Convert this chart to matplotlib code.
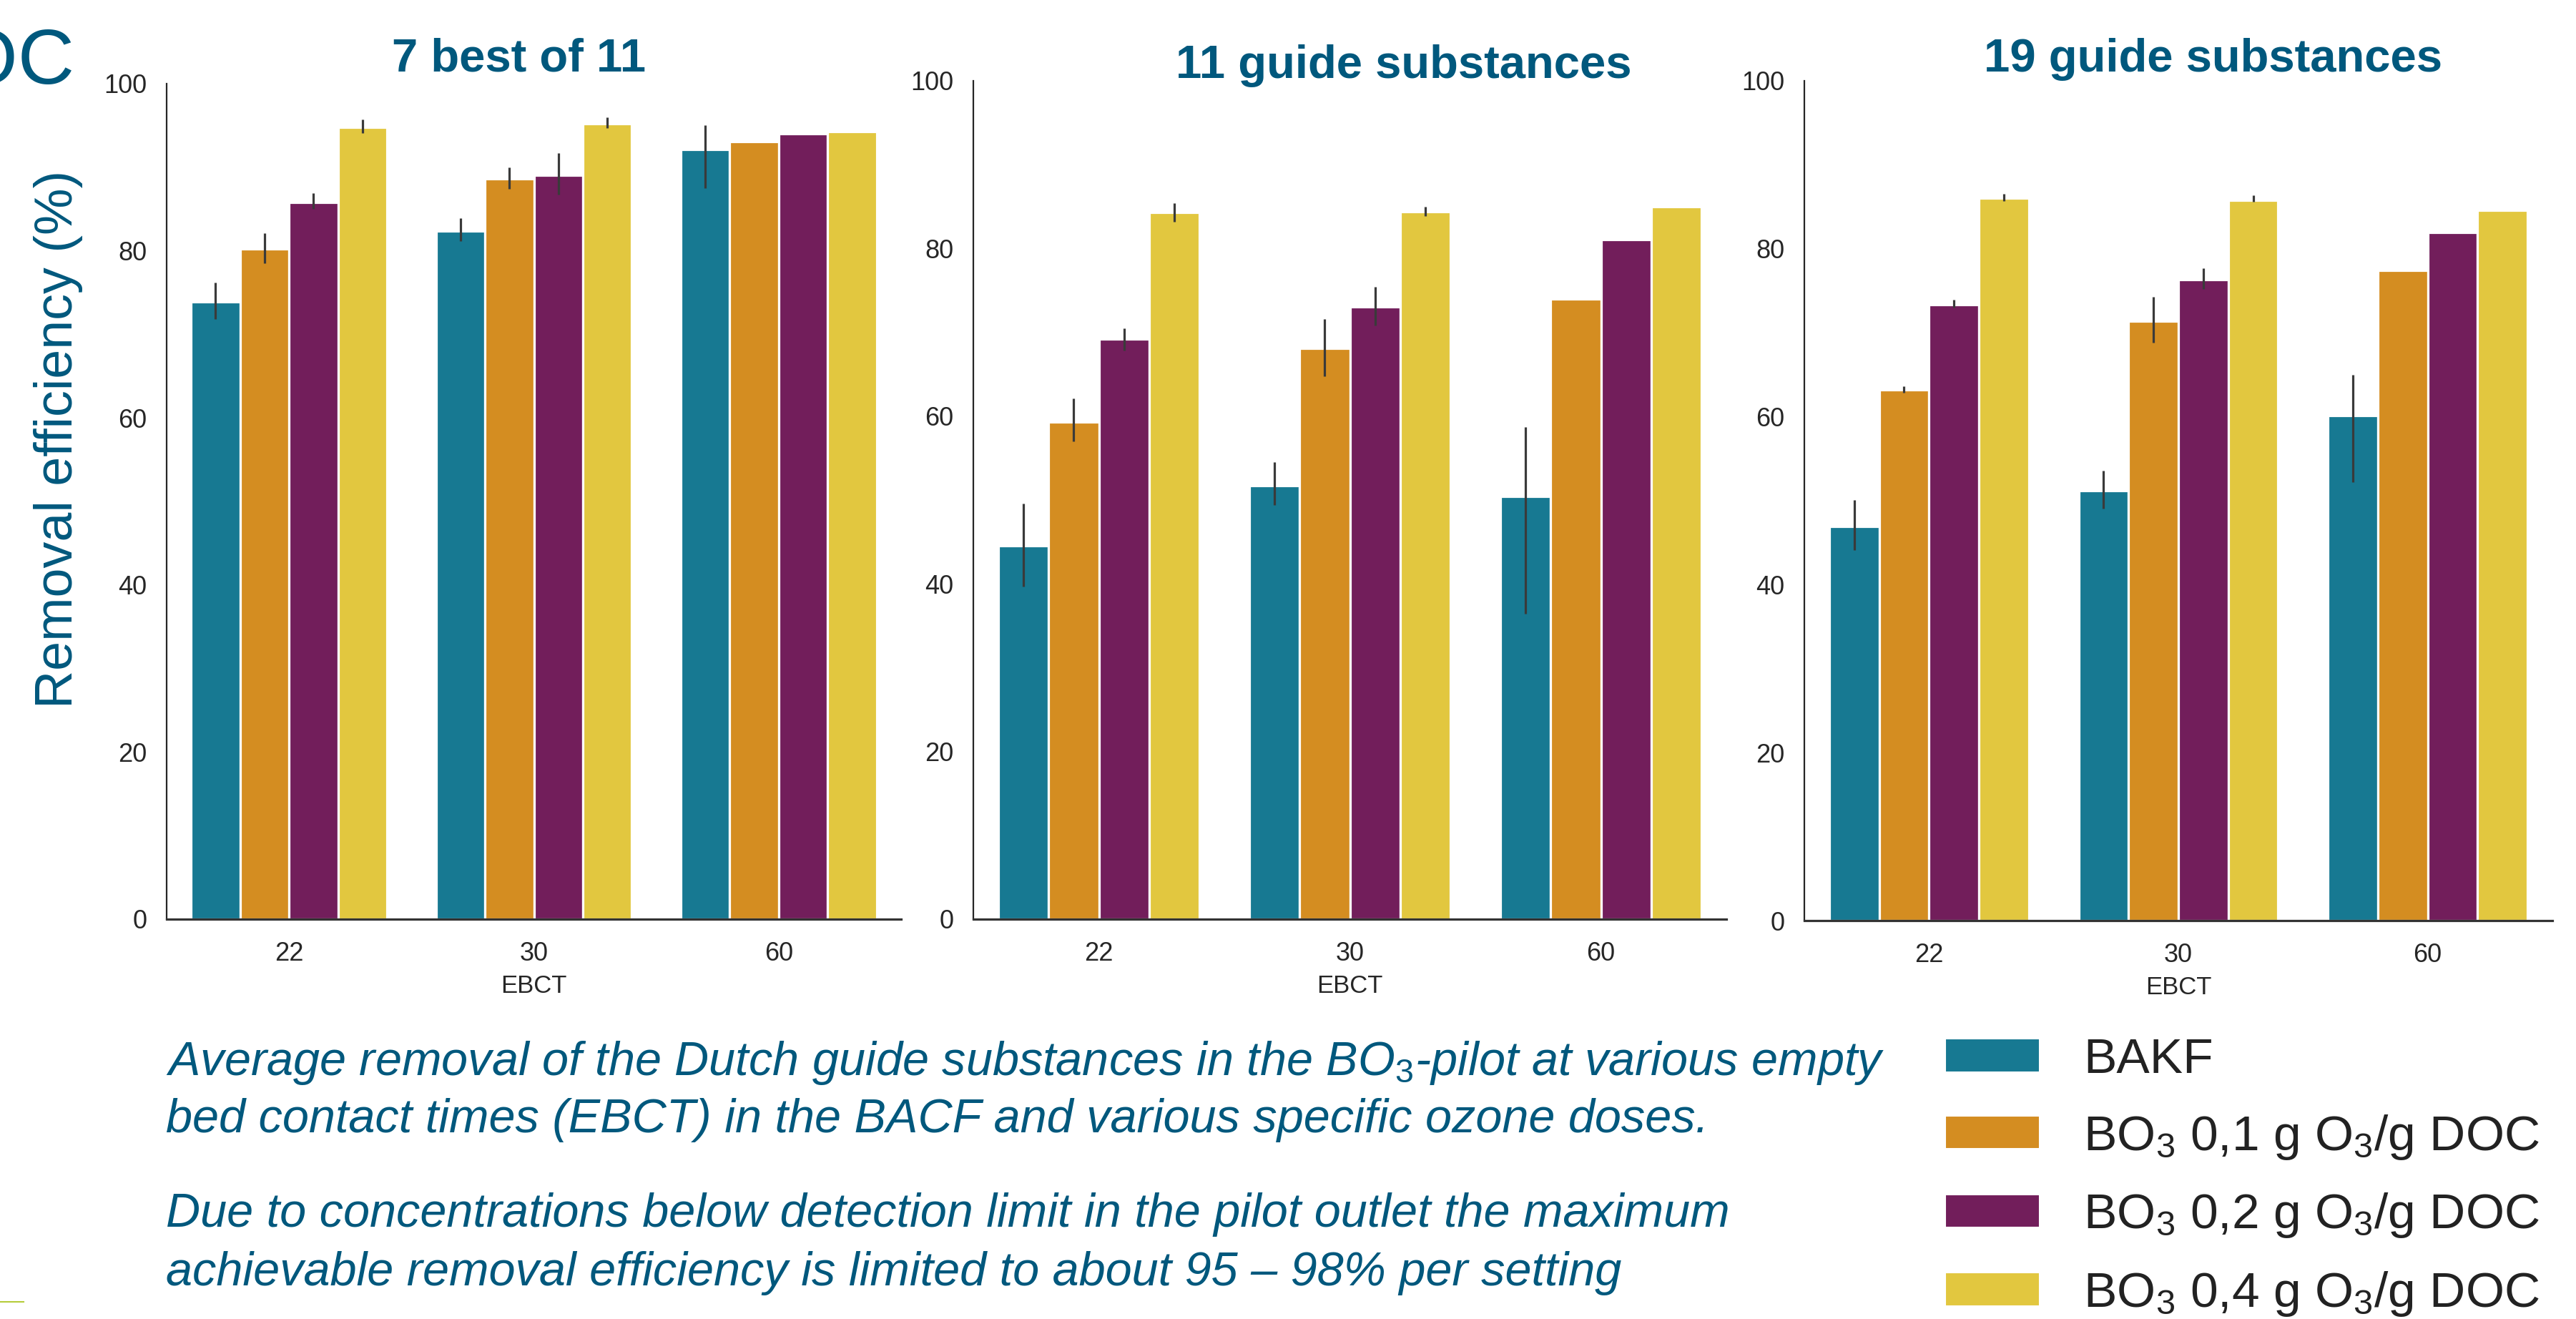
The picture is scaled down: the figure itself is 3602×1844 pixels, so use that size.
import numpy as np
import matplotlib
matplotlib.use("Agg")
import matplotlib.pyplot as plt
from matplotlib.patches import Patch
from matplotlib.lines import Line2D

plt.rcParams['font.family'] = ['Liberation Sans', 'DejaVu Sans']
plt.rcParams['mathtext.fontset'] = 'custom'
plt.rcParams['mathtext.rm'] = 'Liberation Sans'
plt.rcParams['mathtext.it'] = 'Liberation Sans:italic'
plt.rcParams['mathtext.bf'] = 'Liberation Sans:bold'

# ---------------- data ----------------
ebct = ["22", "30", "60"]
series_labels = ["BAKF",
                 "BO$_3$ 0,1 g O$_3$/g DOC",
                 "BO$_3$ 0,2 g O$_3$/g DOC",
                 "BO$_3$ 0,4 g O$_3$/g DOC"]
panel_titles = ["7 best of 11", "11 guide substances", "19 guide substances"]

# panel 1: 7 best of 11
p1_bakf = [73.9, 82.4, 92.1]
p1_bakf_lo = [71.8, 81.2, 87.5]
p1_bakf_hi = [76.2, 83.9, 95.0]
p1_o01 = [80.2, 88.6, 93.1]
p1_o01_lo = [78.5, 87.4, np.nan]
p1_o01_hi = [82.1, 90.0, np.nan]
p1_o02 = [85.8, 89.0, 94.0]
p1_o02_lo = [85.0, 86.7, np.nan]
p1_o02_hi = [86.9, 91.7, np.nan]
p1_o04 = [94.8, 95.2, 94.3]
p1_o04_lo = [94.1, 94.7, np.nan]
p1_o04_hi = [95.7, 96.0, np.nan]

# panel 2: 11 guide substances
p2_bakf = [44.5, 51.7, 50.4]
p2_bakf_lo = [39.7, 49.4, 36.4]
p2_bakf_hi = [49.6, 54.5, 58.7]
p2_o01 = [59.3, 68.1, 74.0]
p2_o01_lo = [57.0, 64.8, np.nan]
p2_o01_hi = [62.1, 71.6, np.nan]
p2_o02 = [69.2, 73.0, 81.1]
p2_o02_lo = [67.8, 70.8, np.nan]
p2_o02_hi = [70.5, 75.4, np.nan]
p2_o04 = [84.3, 84.4, 85.0]
p2_o04_lo = [83.2, 83.9, np.nan]
p2_o04_hi = [85.4, 85.0, np.nan]

# panel 3: 19 guide substances
p3_bakf = [46.9, 51.2, 60.1]
p3_bakf_lo = [44.1, 49.1, 52.2]
p3_bakf_hi = [50.1, 53.6, 65.0]
p3_o01 = [63.2, 71.4, 77.4]
p3_o01_lo = [62.9, 68.8, np.nan]
p3_o01_hi = [63.6, 74.3, np.nan]
p3_o02 = [73.3, 76.3, 81.9]
p3_o02_lo = [73.0, 75.2, np.nan]
p3_o02_hi = [73.9, 77.7, np.nan]
p3_o04 = [86.0, 85.8, 84.6]
p3_o04_lo = [85.7, 85.6, np.nan]
p3_o04_hi = [86.5, 86.4, np.nan]

yticks = [0, 20, 40, 60, 80, 100]

# ---------------- style ----------------
colors = ["#177992", "#D48D21", "#721E5B", "#E2C73F"]
blue = "#00587D"
W, H = 3602, 1844

panels = [
    ([p1_bakf, p1_o01, p1_o02, p1_o04],
     [p1_bakf_lo, p1_o01_lo, p1_o02_lo, p1_o04_lo],
     [p1_bakf_hi, p1_o01_hi, p1_o02_hi, p1_o04_hi]),
    ([p2_bakf, p2_o01, p2_o02, p2_o04],
     [p2_bakf_lo, p2_o01_lo, p2_o02_lo, p2_o04_lo],
     [p2_bakf_hi, p2_o01_hi, p2_o02_hi, p2_o04_hi]),
    ([p3_bakf, p3_o01, p3_o02, p3_o04],
     [p3_bakf_lo, p3_o01_lo, p3_o02_lo, p3_o04_lo],
     [p3_bakf_hi, p3_o01_hi, p3_o02_hi, p3_o04_hi]),
]
# axes boxes in pixels: left, right, top, bottom
boxes = [(233, 1260, 117, 1285), (1361, 2414, 113, 1285), (2523, 3569, 113, 1287)]
title_pos = [(726, 100), (1963, 109), (3094, 100)]

fig = plt.figure(figsize=(W / 100, H / 100), dpi=100)

handles = []
for k, (vals, los, his) in enumerate(panels):
    L, R, T, B = boxes[k]
    ax = fig.add_axes([L / W, 1 - B / H, (R - L) / W, (B - T) / H])
    x = np.arange(len(ebct))
    for i in range(4):
        xi = x + (i - 1.5) * 0.2
        v = np.array(vals[i], float)
        lo = np.array(los[i], float)
        hi = np.array(his[i], float)
        ax.bar(xi, v, width=0.2, color=colors[i], edgecolor="white",
               linewidth=2.3, zorder=2)
        if k == 0:
            handles.append(Patch(facecolor=colors[i], edgecolor="white", linewidth=1.5))
        m = ~np.isnan(lo)
        if m.any():
            ax.errorbar(xi[m], v[m], yerr=[v[m] - lo[m], hi[m] - v[m]], fmt="none",
                        ecolor="#3a3a3a", elinewidth=2.3, capsize=0, zorder=3)
    ax.set_xlim(-0.5, 2.5)
    ax.set_ylim(0, 100)
    ax.set_xticks(x)
    ax.set_xticklabels(ebct)
    ax.set_yticks(yticks)
    ax.tick_params(axis="both", length=0, labelsize=26, labelcolor="#262626")
    ax.tick_params(axis="x", pad=22)
    ax.tick_params(axis="y", pad=20)
    for s in ["top", "right"]:
        ax.spines[s].set_visible(False)
    ax.spines["left"].set_linewidth(1.6)
    ax.spines["left"].set_color("#262626")
    ax.spines["bottom"].set_linewidth(2.3)
    ax.spines["bottom"].set_color("#333333")
    ax.spines["bottom"].set_zorder(4)
    ax.set_xlabel("EBCT", fontsize=25, color="#262626", labelpad=8)
    tx, ty = title_pos[k]
    fig.text(tx / W, 1 - ty / H, panel_titles[k], fontsize=47, fontweight="bold",
             color=blue, ha="center", va="baseline")

# y label
fig.text(81 / W, 1 - 614 / H, "Removal efficiency (%)", rotation=90, fontsize=53,
         color=blue, ha="center", va="center")
# cut-off slide heading (cropped in the reference as well)
fig.text(104 / W, 1 - 117 / H, "DOC", fontsize=79, color=blue, ha="right", va="baseline")

# description text
desc_lines = [
    ("Average removal of the Dutch guide substances in the BO$_\\mathit{3}$-pilot at various empty", 1503),
    ("bed contact times (EBCT) in the BACF and various specific ozone doses.", 1583),
    ("Due to concentrations below detection limit in the pilot outlet the maximum", 1715),
    ("achievable removal efficiency is limited to about 95 \u2013 98% per setting", 1797),
]
for txt, yb in desc_lines:
    fig.text(232 / W, 1 - yb / H, txt, fontsize=48, style="italic", color=blue,
             ha="left", va="baseline")

# legend
fig.legend(handles, series_labels, loc="upper left",
           bbox_to_anchor=(2720 / W, 1 - 1450 / H), frameon=False, fontsize=50,
           handlelength=1.9, handleheight=0.65, handletextpad=0.88,
           labelspacing=0.6, borderaxespad=0, borderpad=0, labelcolor="#222222")

# small decorative line bottom-left
fig.add_artist(Line2D([0, 33 / W], [1 - 1820 / H, 1 - 1820 / H], color="#B5CC3A",
                      linewidth=1.5, transform=fig.transFigure))

fig.savefig("out.png", dpi=100, facecolor="white")
